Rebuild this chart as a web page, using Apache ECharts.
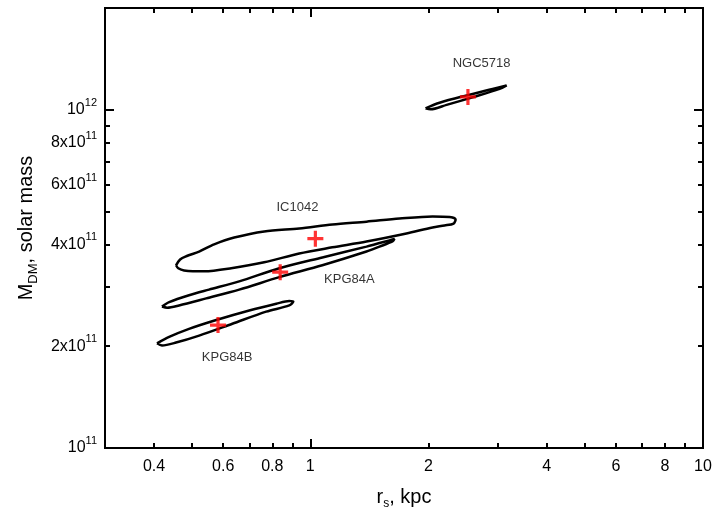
<!DOCTYPE html>
<html>
<head>
<meta charset="utf-8">
<title>M_DM vs r_s</title>
<script src="https://cdn.jsdelivr.net/npm/echarts@6/dist/echarts.min.js"></script>
<style>
html, body { margin: 0; padding: 0; background: #fff; }
#chart { width: 715px; height: 515px; }
</style>
</head>
<body>
<div id="chart"></div>
<script>
// confidence contours, points are [r_s (kpc), M_DM (1e11 solar mass)]
const ic1042 = [
  [0.455, 3.47], [0.466, 3.61], [0.483, 3.69], [0.521, 3.81], [0.569, 4.00], [0.640, 4.19],
  [0.763, 4.37], [0.937, 4.46], [1.138, 4.58], [1.390, 4.67], [1.687, 4.77], [2.048, 4.84],
  [2.263, 4.82], [2.344, 4.74], [2.317, 4.61], [2.197, 4.55], [2.048, 4.49], [1.757, 4.31],
  [1.390, 4.08], [1.138, 3.92], [0.937, 3.76], [0.763, 3.54], [0.629, 3.40], [0.537, 3.33],
  [0.477, 3.35], [0.461, 3.40], [0.455, 3.47]
]
const kpg84a = [
  [0.419, 2.62], [0.437, 2.70], [0.491, 2.83], [0.552, 2.94], [0.659, 3.11], [0.834, 3.40],
  [1.073, 3.66], [1.390, 3.94], [1.591, 4.11], [1.638, 4.15], [1.619, 4.08], [1.500, 3.94],
  [1.390, 3.81], [1.073, 3.47], [0.834, 3.20], [0.659, 2.94], [0.543, 2.77], [0.463, 2.64],
  [0.432, 2.60], [0.419, 2.62]
]
const kpg84b = [
  [0.407, 2.04], [0.437, 2.13], [0.491, 2.25], [0.576, 2.39], [0.699, 2.55], [0.819, 2.67],
  [0.884, 2.72], [0.905, 2.71], [0.884, 2.64], [0.772, 2.53], [0.633, 2.33], [0.521, 2.15],
  [0.455, 2.05], [0.419, 2.01], [0.407, 2.04]
]
const ngc5718 = [
  [1.965, 10.10], [2.134, 10.49], [2.500, 11.03], [2.912, 11.53], [3.162, 11.81], [3.034, 11.53],
  [2.590, 10.89], [2.223, 10.34], [2.023, 10.03], [1.965, 10.10]
]

// best fit points and galaxy names
const centers = [[1.03, 4.16], [0.838, 3.31], [0.582, 2.31], [2.52, 10.92]]
const galaxyNames = ['IC1042', 'KPG84A', 'KPG84B', 'NGC5718']
const namePos = [[0.927, 5.14], [1.257, 3.15], [0.614, 1.855], [2.73, 13.76]]

// axes (x in kpc, y in 1e11 solar mass)
const xRange = [0.3, 10]
const yRange = [1, 20]
const xLabelTicks = [0.4, 0.6, 0.8, 1, 2, 4, 6, 8, 10]
const xMajorTicks = [1, 10]
const xMinorTicks = [0.4, 0.5, 0.6, 0.7, 0.8, 0.9, 2, 3, 4, 5, 6, 7, 8, 9]
const yLabelTicks = [1, 2, 4, 6, 8, 10]
const yMajorTicks = [1, 10]
const yMinorTicks = [2, 3, 4, 5, 6, 7, 8, 9]

const font = 'Liberation Sans, Arial, sans-serif'
const lx = v => Math.log10(v)
const ly = m => 11 + Math.log10(m)
const toXY = arr => arr.map(p => [lx(p[0]), ly(p[1])])

function xAxisOf(position, ticks, len, labels) {
  return {
    type: 'value',
    position,
    min: lx(xRange[0]),
    max: lx(xRange[1]),
    axisLine: { show: true, onZero: false, lineStyle: { color: '#000', width: 2 } },
    axisTick: { show: true, inside: true, length: len, customValues: ticks.map(lx), lineStyle: { color: '#000', width: 2 } },
    axisLabel: labels ? {
      show: true,
      customValues: labels.map(lx),
      margin: 11,
      fontSize: 16,
      fontFamily: font,
      color: '#000',
      formatter: v => String(+Math.pow(10, v).toPrecision(2))
    } : { show: false },
    splitLine: { show: false }
  }
}

function yAxisOf(position, ticks, len, labels) {
  return {
    type: 'value',
    position,
    min: ly(yRange[0]),
    max: ly(yRange[1]),
    axisLine: { show: true, onZero: false, lineStyle: { color: '#000', width: 2 } },
    axisTick: { show: true, inside: true, length: len, customValues: ticks.map(ly), lineStyle: { color: '#000', width: 2 } },
    axisLabel: labels ? {
      show: true,
      customValues: labels.map(ly),
      margin: 8,
      fontSize: 16,
      fontFamily: font,
      color: '#000',
      formatter: v => {
        const exp = Math.floor(v + 1e-6)
        const mant = Math.round(Math.pow(10, v - exp))
        return (mant === 1 ? '' : mant + 'x') + '10{sup|' + exp + '}'
      },
      rich: {
        sup: { fontSize: 11, fontFamily: font, color: '#000', padding: [0, 0, 14, 0] }
      }
    } : { show: false },
    splitLine: { show: false }
  }
}

const xAxes = [
  xAxisOf('bottom', xMajorTicks, 9, xLabelTicks),
  xAxisOf('bottom', xMinorTicks, 5, null),
  xAxisOf('top', xMajorTicks, 9, null),
  xAxisOf('top', xMinorTicks, 5, null)
]
xAxes[0].name = 'r{sub|s}, kpc'
xAxes[0].nameLocation = 'middle'
xAxes[0].nameGap = 36
xAxes[0].nameTextStyle = {
  fontSize: 20, fontFamily: font, color: '#000',
  rich: { sub: { fontSize: 12, fontFamily: font, color: '#000', padding: [14, 0, 0, 0] } }
}

const yAxes = [
  yAxisOf('left', yMajorTicks, 9, yLabelTicks),
  yAxisOf('left', yMinorTicks, 5, null),
  yAxisOf('right', yMajorTicks, 9, null),
  yAxisOf('right', yMinorTicks, 5, null)
]
yAxes[0].name = 'M{sub|DM}, solar mass'
yAxes[0].nameLocation = 'middle'
yAxes[0].nameGap = 61
yAxes[0].nameTextStyle = {
  fontSize: 20, fontFamily: font, color: '#000',
  rich: { sub: { fontSize: 13, fontFamily: font, color: '#000', padding: [14, 0, 0, 0] } }
}

const contourSeries = [ic1042, kpg84a, kpg84b, ngc5718].map((c, i) => ({
  name: galaxyNames[i],
  type: 'line',
  data: toXY(c),
  showSymbol: false,
  smooth: 0.3,
  lineStyle: { color: '#000', width: 2.5 },
  z: 3
}))

const myChart = echarts.init(document.getElementById('chart'))
const option = {
  backgroundColor: '#fff',
  animation: false,
  grid: { left: 105, right: 12, top: 8, bottom: 67, containLabel: false, outerBoundsMode: 'none' },
  xAxis: xAxes,
  yAxis: yAxes,
  series: [
    ...contourSeries,
    {
      type: 'scatter',
      data: toXY(centers),
      symbol: 'path://M6,0H9V6H15V9H9V15H6V9H0V6H6Z',
      symbolSize: 16,
      itemStyle: { color: '#ff0000' },
      z: 4
    },
    {
      type: 'scatter',
      data: namePos.map((p, i) => ({ value: [lx(p[0]), ly(p[1])], name: galaxyNames[i] })),
      symbolSize: 0,
      itemStyle: { color: '#000' },
      label: { show: true, position: 'inside', formatter: '{b}', fontSize: 13, fontFamily: font, color: '#000', textBorderWidth: 0 },
      z: 5
    }
  ]
}
myChart.setOption(option)
</script>
</body>
</html>
